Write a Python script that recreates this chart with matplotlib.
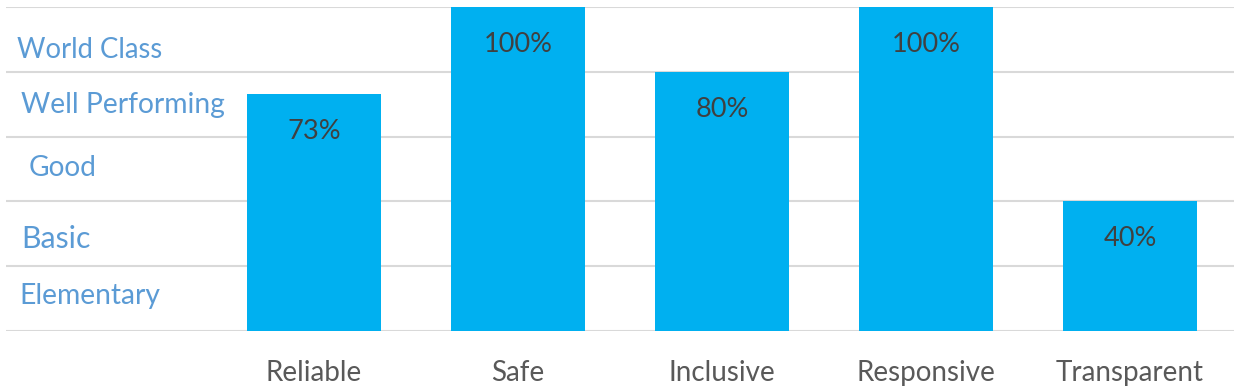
import numpy as np
import matplotlib.pyplot as plt

# Data
categories = ['Reliable', 'Safe', 'Inclusive', 'Responsive', 'Transparent']
scores = [73, 100, 80, 100, 40]

levels = ['World Class', 'Well Performing', 'Good', 'Basic', 'Elementary']
level_y = [86.8, 69.6, 50.4, 28.3, 10.7]

plt.rcParams['font.family'] = ['Lato', 'DejaVu Sans']

fig = plt.figure(figsize=(12.34, 3.87), dpi=100)
ax = fig.add_axes([6 / 1234, 1 - 331 / 387, 1 - 6 / 1234, (331 - 7) / 387])

x = np.arange(len(categories))
bars = ax.bar(x, scores, width=0.66, color='#00B0F0', zorder=3)

# value labels inside bar tops
for b, v in zip(bars, scores):
    ax.annotate(f'{v}%', (b.get_x() + b.get_width() / 2, v),
                xytext=(0, -27), textcoords='offset points',
                ha='center', va='center', fontsize=19.5, color='#404040')

# level labels on the left
level_x = [-1.455, -1.436, -1.397, -1.436, -1.445]
level_size = [19.8, 20.3, 20.2, 21.8, 20.3]
for lbl, lx, ly, fs in zip(levels, level_x, level_y, level_size):
    ax.text(lx, ly, lbl, ha='left', va='center', fontsize=fs, color='#5B9BD5')

ax.set_xlim(-1.51, 4.51)
ax.set_ylim(0, 100)
ax.set_yticks([0, 20, 40, 60, 80, 100])
ax.set_yticklabels([])
ax.set_xticks(x)
ax.set_xticklabels(categories, fontsize=20, color='#595959')
ax.tick_params(axis='both', length=0)
ax.tick_params(axis='x', pad=21)
ax.grid(axis='y', color='#d9d9d9', linewidth=1.5, zorder=0)
for s in ax.spines.values():
    s.set_visible(False)

plt.savefig('out.png', dpi=100)
